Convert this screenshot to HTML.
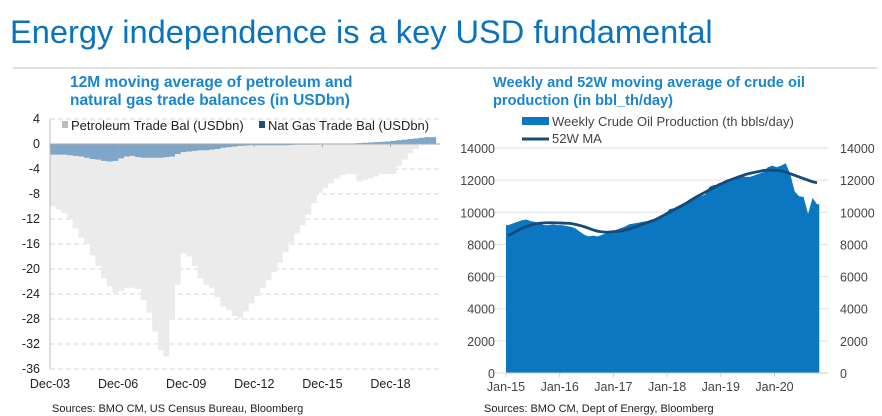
<!DOCTYPE html>
<html><head><meta charset="utf-8"><style>
body{margin:0;background:#fff;width:882px;height:416px;overflow:hidden;font-family:"Liberation Sans",sans-serif}
svg{position:absolute;left:0;top:0}
</style></head><body>
<svg width="882" height="416">
<text x="10" y="43" font-size="32.6" fill="#0a73bd">Energy independence is a key USD fundamental</text>
<rect x="13" y="67" width="864" height="2" fill="#e0e0e0"/>
<text x="70" y="87" font-size="15.5" font-weight="bold" fill="#1a86cf"><tspan x="70">12M moving average of petroleum and</tspan><tspan x="70" dy="18">natural gas trade balances (in USDbn)</tspan></text>
<text x="493" y="87" font-size="14.6" font-weight="bold" fill="#1a86cf"><tspan x="493">Weekly and 52W moving average of crude oil</tspan><tspan x="493" dy="18">production (in bbl_th/day)</tspan></text>
<g id="left"></g>
<g id="right"></g>
<text x="52" y="412" font-size="11" fill="#222">Sources: BMO CM, US Census Bureau, Bloomberg</text>
<text x="484" y="412" font-size="11" fill="#222">Sources: BMO CM, Dept of Energy, Bloomberg</text>
</svg>
<script>
// Left chart data (quarterly, starting Dec-03)
const petroleum=[-10,-10.5,-11,-12,-13.5,-15,-16,-17.8,-19.5,-21.5,-22.8,-23.8,-23.5,-23,-23,-23.2,-25,-27,-30,-33,-34,-28,-22.5,-17.5,-18,-19.5,-21.5,-22.5,-23,-24.5,-26,-26.6,-27.5,-27.8,-26.8,-25.5,-24.3,-23,-21.8,-20.5,-19,-17.3,-15.8,-14.3,-13,-11.3,-9.5,-7.8,-7,-6.3,-5.5,-5,-4.8,-4.8,-6,-5.8,-5.5,-5.2,-4.8,-4.8,-4.8,-3.5,-2.5,-1.5,-0.8,0,0.6,1];
const natGas=[-1.7,-1.7,-1.7,-1.8,-1.9,-2.0,-2.2,-2.4,-2.5,-2.7,-2.8,-2.7,-2.3,-2.0,-1.9,-2.1,-2.2,-2.2,-2.2,-2.2,-2.1,-2.0,-1.6,-1.3,-1.2,-1.1,-1.0,-1.0,-0.9,-0.8,-0.6,-0.5,-0.4,-0.3,-0.25,-0.2,-0.2,-0.2,-0.2,-0.2,-0.2,-0.2,-0.15,-0.1,-0.1,-0.1,-0.1,-0.05,-0.05,-0.05,0,0,0.05,0.1,0.15,0.2,0.25,0.3,0.35,0.4,0.5,0.6,0.7,0.8,0.9,1,1.1,1.1];
const leftTicks=[4,0,-4,-8,-12,-16,-20,-24,-28,-32,-36];
const leftXLabels=["Dec-03","Dec-06","Dec-09","Dec-12","Dec-15","Dec-18"];
// Right chart data (monthly from Jan-15)
const production=[9200,9300,9400,9500,9550,9450,9400,9300,9200,9200,9250,9200,9200,9150,9100,9000,8800,8600,8500,8550,8500,8600,8700,8800,8900,9000,9100,9250,9300,9350,9400,9450,9500,9550,9650,9850,10200,10250,10400,10500,10700,10900,10950,11000,11100,11600,11700,11700,11900,12000,12100,12200,12250,12200,12200,12300,12400,12500,12800,12900,12800,12900,13050,12400,11300,11000,10950,9900,10900,10500];
const ma52=[8550,8700,8850,9000,9100,9200,9280,9320,9340,9350,9350,9340,9330,9320,9300,9250,9180,9100,9000,8900,8820,8780,8760,8780,8800,8830,8880,8950,9050,9150,9250,9350,9450,9550,9700,9850,10000,10150,10300,10450,10600,10780,10950,11100,11250,11400,11550,11700,11820,11950,12050,12150,12250,12350,12420,12480,12540,12600,12620,12620,12600,12580,12500,12400,12300,12200,12100,12000,11900,11840];
const rightTicks=[0,2000,4000,6000,8000,10000,12000,14000];
const rightXLabels=["Jan-15","Jan-16","Jan-17","Jan-18","Jan-19","Jan-20"];

const NS="http://www.w3.org/2000/svg";
function mk(parent,tag,attrs,text){const e=document.createElementNS(NS,tag);for(const k in attrs)e.setAttribute(k,attrs[k]);if(text!==undefined)e.textContent=text;parent.appendChild(e);return e;}

// LEFT
const L=document.getElementById('left');
const ly=v=>144-v*6.25;
const lx=i=>50+i*22.7/4;
leftTicks.forEach(t=>{
  const g=mk(L,'line',{x1:50,x2:440,y1:ly(t),y2:ly(t),stroke:'#dadada','stroke-dasharray':'5,3'});
  
  
  const tx=mk(L,'text',{x:40,y:ly(t)+4,'font-size':12.5,'text-anchor':'end',fill:'#222'},String(t));
  
  
});
const bw=22.7/4;
petroleum.forEach((v,i)=>{
  const y0=ly(0),y1=ly(v);
  const r=mk(L,'rect',{x:lx(i),y:Math.min(y0,y1),width:bw+0.2,height:Math.abs(y1-y0),fill:'#ebebeb'});
  
  
});
natGas.forEach((v,i)=>{
  const y0=ly(0),y1=ly(v);
  const r=mk(L,'rect',{x:lx(i),y:Math.min(y0,y1),width:bw+0.2,height:Math.max(Math.abs(y1-y0),0.5),fill:'#7ea6c8'});
  
  
});
const ax=mk(L,'line',{x1:50,x2:50,y1:119,y2:369,stroke:'#bbb','stroke-width':1});


const zl=mk(L,'line',{x1:50,x2:440,y1:144,y2:144,stroke:'#aaa','stroke-width':1});


leftXLabels.forEach((s,k)=>{
  const x=50+k*3*22.7;
  const tk=mk(L,'line',{x1:x,x2:x,y1:144,y2:147,stroke:'#aaa'});
  
  
  const t=mk(L,'text',{x:x,y:388,'font-size':12.5,'text-anchor':'middle',fill:'#222'},s);
  
  
});
const lg1=mk(L,'rect',{x:62,y:121,width:6,height:7,fill:'#bdbdbd'});


const lt1=mk(L,'text',{x:71,y:130,'font-size':13,fill:'#222'},'Petroleum Trade Bal (USDbn)');


const lg2=mk(L,'rect',{x:259,y:121,width:6,height:7,fill:'#1f4e79'});


const lt2=mk(L,'text',{x:268,y:130,'font-size':13,fill:'#222'},'Nat Gas Trade Bal (USDbn)');



// RIGHT
const R=document.getElementById('right');
const ry=v=>373-v*225/14000;
const rx=i=>506+i*53.7/12;
rightTicks.forEach(t=>{
  const g=mk(R,'line',{x1:495,x2:828,y1:ry(t),y2:ry(t),stroke:'#e0e0e0'});
  
  
  const a=mk(R,'text',{x:495,y:ry(t)+5,'font-size':12.5,'text-anchor':'end',fill:'#444'},String(t));
  
  
  const b=mk(R,'text',{x:840,y:ry(t)+5,'font-size':12.5,fill:'#444'},String(t));
  
  
});
let d='M'+rx(0)+','+ry(0)+' L'+rx(0)+','+ry(production[0]);
production.forEach((v,i)=>{d+=' L'+rx(i+0.5)+','+ry(v);});
d+=' L'+rx(production.length)+','+ry(production[production.length-1])+' L'+rx(production.length)+','+ry(0)+' Z';
const area=mk(R,'path',{d:d,fill:'#0a77c0'});


let m='';
ma52.forEach((v,i)=>{m+=(i?' L':'M')+rx(i+0.5)+','+ry(v);});
const ln=mk(R,'path',{d:m,fill:'none',stroke:'#174a78','stroke-width':2.8,'stroke-linejoin':'round'});


const xa=mk(R,'line',{x1:506,x2:828,y1:373,y2:373,stroke:'#ccc'});


rightXLabels.forEach((s,k)=>{
  const x=rx(k*12);
  const tk=mk(R,'line',{x1:x,x2:x,y1:373,y2:377,stroke:'#ccc'});
  
  
  const t=mk(R,'text',{x:x,y:391,'font-size':12.5,'text-anchor':'middle',fill:'#444'},s);
  
  
});
const rg1=mk(R,'rect',{x:522,y:117,width:27,height:8,fill:'#0a77c0'});


const rt1=mk(R,'text',{x:552,y:126,'font-size':13,fill:'#444'},'Weekly Crude Oil Production (th bbls/day)');


const rg2=mk(R,'line',{x1:522,x2:549,y1:139,y2:139,stroke:'#174a78','stroke-width':3});


const rt2=mk(R,'text',{x:552,y:143,'font-size':13,fill:'#444'},'52W MA');


</script>
</body></html>
